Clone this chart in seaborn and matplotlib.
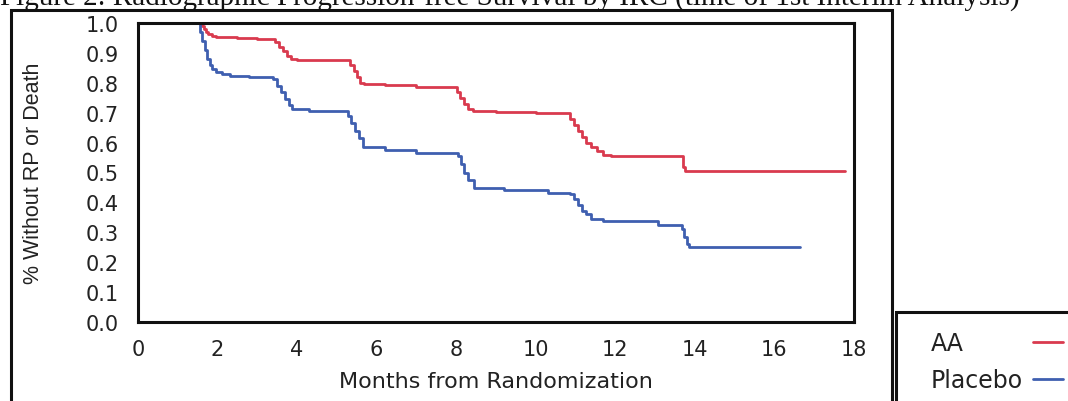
import numpy as np
import pandas as pd
import matplotlib
matplotlib.use("Agg")
import matplotlib.pyplot as plt
from matplotlib.patches import Rectangle
from matplotlib.lines import Line2D
import seaborn as sns

# ---------------- data ----------------
aa_time = [0, 1.60, 1.65, 1.70, 1.75, 1.85, 1.95, 2.5, 3.0, 3.44, 3.55, 3.65, 3.75,
           3.85, 4.0, 4.6, 5.33, 5.42, 5.50, 5.58, 5.67, 6.2, 7.0, 8.01, 8.10, 8.20,
           8.30, 8.43, 9.0, 10.0, 10.86, 10.95, 11.05, 11.15, 11.25, 11.4, 11.55,
           11.7, 11.9, 12.5, 13.7, 13.75, 17.77]
aa_surv = [1.0, 0.99, 0.98, 0.97, 0.962, 0.957, 0.953, 0.950, 0.947, 0.935, 0.92,
           0.905, 0.89, 0.878, 0.876, 0.875, 0.86, 0.84, 0.82, 0.80, 0.797, 0.792,
           0.787, 0.77, 0.75, 0.73, 0.712, 0.705, 0.702, 0.698, 0.68, 0.66, 0.64,
           0.62, 0.60, 0.585, 0.572, 0.56, 0.556, 0.555, 0.52, 0.505, 0.505]

pl_time = [0, 1.56, 1.62, 1.68, 1.74, 1.80, 1.86, 1.95, 2.1, 2.31, 2.8, 3.4, 3.50,
           3.60, 3.70, 3.80, 3.88, 4.3, 5.28, 5.36, 5.45, 5.55, 5.66, 6.2, 7.0, 8.05,
           8.12, 8.20, 8.30, 8.45, 9.2, 10.3, 10.86, 10.95, 11.05, 11.15, 11.25,
           11.4, 11.7, 13.07, 13.67, 13.73, 13.80, 13.85, 16.64]
pl_surv = [1.0, 0.97, 0.94, 0.91, 0.88, 0.86, 0.845, 0.835, 0.83, 0.824, 0.818,
           0.813, 0.79, 0.77, 0.745, 0.725, 0.712, 0.705, 0.69, 0.665, 0.64, 0.615,
           0.584, 0.575, 0.566, 0.556, 0.53, 0.50, 0.475, 0.447, 0.44, 0.432, 0.428,
           0.41, 0.39, 0.37, 0.36, 0.345, 0.338, 0.324, 0.31, 0.285, 0.262, 0.25, 0.25]

arms = ["AA", "Placebo"]
arm_colors = ["#D93A4E", "#3F5FB0"]
x_ticks = [0, 2, 4, 6, 8, 10, 12, 14, 16, 18]
y_ticks = [0.0, 0.1, 0.2, 0.3, 0.4, 0.5, 0.6, 0.7, 0.8, 0.9, 1.0]
x_label = "Months from Randomization"
y_label = "% Without RP or Death"
title = "Figure 2: Radiographic Progression-free Survival by IRC (time of 1st Interim Analysis)"

df = pd.concat([
    pd.DataFrame({"Months": aa_time, "Survival": aa_surv, "Arm": arms[0]}),
    pd.DataFrame({"Months": pl_time, "Survival": pl_surv, "Arm": arms[1]}),
], ignore_index=True)

# ---------------- figure ----------------
sns.set_theme(style="white")
plt.rcParams["font.family"] = ["DejaVu Sans"]

W, H = 1068, 402
fig = plt.figure(figsize=(W / 100, H / 100), dpi=100)
fig.patch.set_facecolor("white")

L, R, T, B = 138, 854, 24, 323
ax = fig.add_axes([L / W, 1 - B / H, (R - L) / W, (B - T) / H])

sns.lineplot(data=df, x="Months", y="Survival", hue="Arm", palette=arm_colors,
             hue_order=arms, estimator=None, sort=False, drawstyle="steps-post",
             linewidth=2.0, legend=False, ax=ax)

ax.set_xlim(0, 18)
ax.set_ylim(0, 1.0)
ax.set_xticks(x_ticks)
ax.set_yticks(y_ticks)
ax.set_xticklabels([str(v) for v in x_ticks])
ax.set_yticklabels([f"{v:.1f}" for v in y_ticks])
for sp in ax.spines.values():
    sp.set_visible(True)
    sp.set_color("#111111")
    sp.set_linewidth(2.2)
ax.tick_params(axis="both", direction="out", length=7, width=2.0, color="#111111",
               labelsize=15, labelcolor="#222222")
ax.tick_params(axis="x", pad=5)
ax.tick_params(axis="y", pad=7)
ax.grid(False)

ax.set_xlabel(x_label, fontsize=16, color="#222222")
ax.xaxis.set_label_coords(0.5, (B - 372) / (B - T))
ax.set_ylabel(y_label, fontsize=15.5, color="#222222",
              family=["Liberation Sans", "DejaVu Sans"])
ax.yaxis.set_label_coords((44 - L) / (R - L), 0.5)

# title (clipped at the top of the page, as in the scan)
fig.text(0.0, 1 - 6 / H, title, fontsize=21, family=["Liberation Serif", "DejaVu Serif"],
         color="#111111", va="baseline", ha="left")

# outer document frame
fig.add_artist(Rectangle((11 / W, -0.1), (892 - 11) / W, 1.1 - 11 / H,
                         transform=fig.transFigure, fill=False, lw=2.2,
                         edgecolor="#111111", clip_on=False))
# legend box
fig.add_artist(Rectangle((896 / W, -0.1), 0.3, 0.1 + 1 - 313 / H,
                         transform=fig.transFigure, fill=False, lw=2.2,
                         edgecolor="#111111", clip_on=False))

handles = [Line2D([], [], color=c, lw=2.0) for c in arm_colors]
leg = fig.legend(handles, arms, loc="upper left", bbox_to_anchor=(931 / W, 1 - 332 / H),
                 bbox_transform=fig.transFigure, frameon=False, markerfirst=False,
                 borderpad=0, borderaxespad=0, handlelength=1.3, handletextpad=0.4,
                 labelspacing=0.55, fontsize=17)
for t in leg.get_texts():
    t.set_color("#222222")

# left-align the labels while keeping handles aligned at the right
fig.canvas.draw()
rend = fig.canvas.get_renderer()
widths = [t.get_window_extent(rend).width for t in leg.get_texts()]
wmax = max(widths)
col = leg._legend_handle_box.get_children()[0]
for item, w in zip(col.get_children(), widths):
    item.sep += (wmax - w) * 72.0 / fig.dpi

fig.savefig("out.png", dpi=100, facecolor="white")
